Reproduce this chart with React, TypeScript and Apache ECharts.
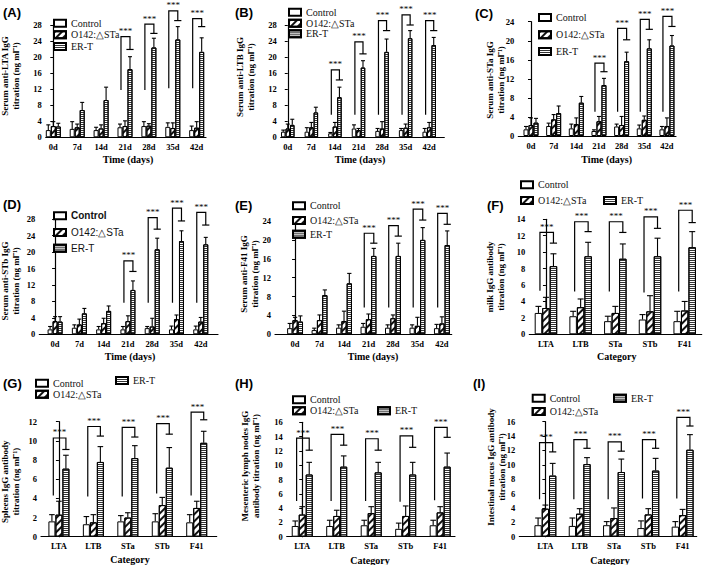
import React, { useEffect, useRef } from "react";
import * as echarts from "echarts";

const dayCategories = ["0d", "7d", "14d", "21d", "28d", "35d", "42d"];
const antigenCategories = ["LTA", "LTB", "STa", "STb", "F41"];
const groupNames = ["Control", "O142:△STa", "ER-T"];

// (A) Serum anti-LTA IgG
const aControl = [1.8, 2.1, 1.8, 2.5, 2.8, 2.6, 1.8];
const aControlSd = [1.3, 1.8, 0.7, 0.8, 1.1, 1.0, 1.0];
const aO142 = [2.8, 2.5, 2.2, 2.8, 2.9, 2.3, 2.4];
const aO142Sd = [1.1, 0.8, 0.9, 1.3, 0.5, 1.3, 1.5];
const aErt = [2.7, 6.8, 9.3, 17.0, 22.4, 24.4, 21.3];
const aErtSd = [0.8, 1.9, 3.2, 3.1, 2.3, 3.2, 3.5];
const aSigCats = [3, 4, 5, 6];
const aSigLow = [11.8, 11.8, 12.2, 12.2];
const aSigTop = [25.1, 28.2, 31.5, 29.6];
const aSigHigh = [21.9, 25.9, 29.1, 27.6];

// (B) Serum anti-LTB IgG
const bControl = [1.4, 1.4, 1.0, 2.2, 1.6, 1.8, 1.4];
const bControlSd = [0.4, 1.0, 0.2, 0.9, 0.6, 0.4, 0.8];
const bO142 = [2.2, 2.5, 2.7, 1.8, 2.2, 2.4, 2.5];
const bO142Sd = [1.1, 1.2, 1.0, 0.4, 1.7, 0.9, 1.2];
const bErt = [3.1, 6.2, 10.0, 17.4, 21.3, 24.7, 23.0];
const bErtSd = [1.4, 1.3, 2.5, 1.7, 3.2, 1.9, 1.9];
const bSigCats = [2, 3, 4, 5, 6];
const bSigLow = [5.6, 5.6, 5.6, 5.6, 5.6];
const bSigTop = [16.8, 23.8, 29.1, 30.5, 29.1];
const bSigHigh = [14.3, 20.8, 26.6, 28.0, 26.6];

// (C) Serum anti-STa IgG
const cControl = [1.4, 2.1, 1.6, 1.05, 2.0, 1.6, 1.4];
const cControlSd = [0.6, 0.6, 0.9, 0.25, 0.5, 0.7, 0.6];
const cO142 = [2.3, 3.5, 2.5, 3.1, 2.3, 3.4, 2.1];
const cO142Sd = [1.5, 1.0, 1.3, 1.0, 1.8, 0.8, 1.7];
const cErt = [2.8, 4.8, 7.0, 10.7, 15.7, 18.4, 19.0];
const cErtSd = [0.9, 1.5, 1.3, 1.4, 1.9, 1.8, 2.1];
const cSigCats = [3, 4, 5, 6];
const cSigLow = [5.1, 5.1, 5.1, 5.1];
const cSigTop = [15.3, 22.6, 24.5, 25.1];
const cSigHigh = [13.5, 20.2, 22.4, 23.0];

// (D) Serum anti-STb IgG
const dControl = [1.2, 1.6, 1.2, 1.2, 1.5, 1.2, 1.2];
const dControlSd = [0.7, 0.7, 0.7, 0.7, 0.4, 0.8, 0.8];
const dO142 = [3.2, 2.4, 2.7, 3.2, 1.9, 3.7, 3.1];
const dO142Sd = [1.1, 1.3, 1.2, 1.3, 2.0, 1.0, 1.0];
const dErt = [3.1, 5.1, 5.7, 10.8, 20.7, 22.7, 21.9];
const dErtSd = [1.2, 1.2, 1.2, 2.2, 2.7, 2.5, 1.7];
const dSigCats = [3, 4, 5, 6];
const dSigLow = [7.7, 7.7, 7.7, 7.7];
const dSigTop = [17.9, 28.4, 30.7, 29.7];
const dSigHigh = [15.3, 25.6, 27.6, 26.6];

// (E) Serum anti-F41 IgG
const eControl = [1.3, 0.9, 1.4, 1.6, 1.4, 1.4, 1.3];
const eControlSd = [1.0, 0.4, 0.6, 0.7, 0.6, 0.6, 0.8];
const eO142 = [3.0, 3.0, 2.8, 3.2, 3.4, 1.8, 2.3];
const eO142Sd = [0.6, 1.1, 2.1, 1.1, 0.7, 1.8, 1.4];
const eErt = [2.7, 8.3, 10.8, 16.6, 16.6, 20.0, 18.9];
const eErtSd = [1.2, 1.1, 2.1, 1.6, 2.7, 2.6, 3.0];
const eSigCats = [3, 4, 5, 6];
const eSigLow = [5.7, 5.7, 5.7, 5.7];
const eSigTop = [21.4, 23.0, 26.5, 25.6];
const eSigHigh = [19.3, 20.8, 24.2, 23.3];

// (F) milk IgG antibody
const fControl = [2.6, 2.2, 1.6, 1.8, 1.6];
const fControlSd = [0.8, 0.6, 0.6, 0.6, 1.2];
const fO142 = [3.2, 3.3, 2.6, 2.8, 2.9];
const fO142Sd = [1.3, 1.0, 0.8, 1.9, 1.1];
const fErt = [8.3, 9.5, 9.2, 9.5, 10.6];
const fErtSd = [1.5, 1.7, 1.8, 2.2, 1.9];
const fSigCats = [0, 1, 2, 3, 4];
const fSigLow = [5.3, 5.2, 5.2, 5.1, 5.2];
const fSigTop = [12.4, 13.7, 13.7, 14.3, 15.1];
const fSigHigh = [11.1, 12.5, 12.4, 12.9, 13.6];

// (G) Spleens IgG antibody
const gControl = [1.6, 1.3, 1.6, 1.6, 1.5];
const gControlSd = [0.7, 0.8, 0.6, 0.8, 0.8];
const gO142 = [2.3, 1.5, 2.0, 3.3, 3.0];
const gO142Sd = [1.4, 0.8, 0.5, 0.8, 0.7];
const gErt = [7.1, 7.8, 8.2, 7.2, 9.8];
const gErtSd = [1.4, 1.6, 1.3, 2.1, 1.2];
const gSigCats = [0, 1, 2, 3, 4];
const gSigLow = [4.3, 4.2, 4.2, 4.5, 4.3];
const gSigTop = [10.3, 11.5, 11.4, 11.8, 13.0];
const gSigHigh = [9.1, 10.5, 10.4, 10.7, 12.2];

// (H) Mesenteric lymph nodes IgG antibody
const hControl = [1.5, 1.5, 1.6, 1.1, 1.6];
const hControlSd = [0.7, 0.8, 0.7, 0.8, 0.7];
const hO142 = [3.1, 2.9, 3.3, 2.9, 3.4];
const hO142Sd = [1.1, 0.8, 0.9, 1.4, 0.8];
const hErt = [8.7, 9.8, 9.0, 8.7, 9.8];
const hErtSd = [1.7, 1.5, 1.4, 1.7, 1.9];
const hSigCats = [0, 1, 2, 3, 4];
const hSigLow = [5.0, 5.0, 5.0, 4.9, 5.1];
const hSigTop = [13.8, 14.3, 13.7, 14.1, 15.3];
const hSigHigh = [12.1, 12.8, 12.1, 12.5, 13.9];

// (I) Intestinal mucus IgG antibody
const iControl = [1.6, 1.5, 1.6, 1.2, 1.4];
const iControlSd = [1.0, 1.1, 0.5, 1.0, 0.7];
const iO142 = [3.9, 3.2, 2.6, 3.1, 3.0];
const iO142Sd = [0.5, 0.7, 1.4, 0.8, 0.8];
const iErt = [8.5, 10.1, 9.0, 9.2, 12.1];
const iErtSd = [1.7, 0.9, 1.8, 1.7, 2.1];
const iSigCats = [0, 1, 2, 3, 4];
const iSigLow = [5.2, 5.2, 5.2, 5.3, 5.3];
const iSigTop = [13.1, 13.5, 13.2, 13.5, 16.6];
const iSigHigh = [11.8, 12.3, 11.9, 12.3, 15.4];

const SERIF = "'Liberation Serif', 'Times New Roman', serif";
const SANS = "'Liberation Sans', Arial, sans-serif";
const UNIT = "titration (ng ml\u207B\u00B9)";

const panels = [
  {
    label: "(A)", labelPos: [3, 12], cats: dayCategories,
    means: [aControl, aO142, aErt], sds: [aControlSd, aO142Sd, aErtSd],
    sig: [aSigCats, aSigLow, aSigTop, aSigHigh], yMax: 28, yStep: 4,
    grid: [45.7, 25, 160.3, 112.3], xMin: -0.318, xMax: 6.39, bw: 5,
    yTitle: "Serum anti-LTA IgG\n" + UNIT, yTitlePos: [10.4, 76],
    xTitle: "Time (days)", xTitlePos: [128, 159.3],
    legendPos: [[53, 21.7], [53, 33.3], [53, 45]], sans: false,
  },
  {
    label: "(B)", labelPos: [235, 12], cats: dayCategories,
    means: [bControl, bO142, bErt], sds: [bControlSd, bO142Sd, bErtSd],
    sig: [bSigCats, bSigLow, bSigTop, bSigHigh], yMax: 28, yStep: 4,
    grid: [280.7, 25, 163.6, 112.3], xMin: -0.3, xMax: 6.64, bw: 4.5,
    yTitle: "Serum anti-LTB IgG\n" + UNIT, yTitlePos: [245.3, 77],
    xTitle: "Time (days)", xTitlePos: [360, 159],
    legendPos: [[288, 10.7], [288, 21.7], [288, 32.3]], sans: false,
  },
  {
    label: "(C)", labelPos: [475, 13], cats: dayCategories,
    means: [cControl, cO142, cErt], sds: [cControlSd, cO142Sd, cErtSd],
    sig: [cSigCats, cSigLow, cSigTop, cSigHigh], yMax: 24, yStep: 4,
    grid: [518.3, 21.7, 157.7, 114.3], xMin: -0.56, xMax: 6.4, bw: 5,
    yTitle: "Serum anti-STa IgG\n" + UNIT, yTitlePos: [495.5, 80],
    xTitle: "Time (days)", xTitlePos: [606.7, 159],
    legendPos: [[538, 16], [538, 33.3], [538, 50]], sans: false,
  },
  {
    label: "(D)", labelPos: [3, 204], cats: dayCategories,
    means: [dControl, dO142, dErt], sds: [dControlSd, dO142Sd, dErtSd],
    sig: [dSigCats, dSigLow, dSigTop, dSigHigh], yMax: 28, yStep: 4,
    grid: [39.3, 219.3, 178.7, 115], xMin: -0.65, xMax: 6.71, bw: 5,
    yTitle: "Serum anti-STb IgG\n" + UNIT, yTitlePos: [10.8, 281],
    xTitle: "Time (days)", xTitlePos: [130, 356.7],
    legendPos: [[53, 214.3], [53, 231], [53, 246.7]], sans: true,
  },
  {
    label: "(E)", labelPos: [235, 205], cats: dayCategories,
    means: [eControl, eO142, eErt], sds: [eControlSd, eO142Sd, eErtSd],
    sig: [eSigCats, eSigLow, eSigTop, eSigHigh], yMax: 24, yStep: 4,
    grid: [275, 221, 176.7, 113.3], xMin: -0.82, xMax: 6.4, bw: 5.3,
    yTitle: "Serum anti-F41 IgG\n" + UNIT, yTitlePos: [249, 274],
    xTitle: "Time (days)", xTitlePos: [373, 356.7],
    legendPos: [[292, 204.3], [292, 219], [292, 232.7]], sans: false,
  },
  {
    label: "(F)", labelPos: [487, 205], cats: antigenCategories,
    means: [fControl, fO142, fErt], sds: [fControlSd, fO142Sd, fErtSd],
    sig: [fSigCats, fSigLow, fSigTop, fSigHigh], yMax: 14, yStep: 2,
    grid: [529.3, 219.3, 172.4, 115], xMin: -0.48, xMax: 4.49, bw: 7.5,
    yTitle: "milk IgG antibody\n" + UNIT, yTitlePos: [495, 277],
    xTitle: "Category", xTitlePos: [616.7, 356.7],
    legendPos: [[520, 183.3], [520, 199], [603, 199]], sans: false,
  },
  {
    label: "(G)", labelPos: [3, 383], cats: antigenCategories,
    means: [gControl, gO142, gErt], sds: [gControlSd, gO142Sd, gErtSd],
    sig: [gSigCats, gSigLow, gSigTop, gSigHigh], yMax: 12, yStep: 2,
    grid: [41, 421.7, 175.7, 115], xMin: -0.52, xMax: 4.58, bw: 7,
    yTitle: "Spleens IgG antibody\n" + UNIT, yTitlePos: [10.3, 481.7],
    xTitle: "Category", xTitlePos: [130, 559.3],
    legendPos: [[35, 381.7], [35, 392.7], [115, 379]], sans: false,
  },
  {
    label: "(H)", labelPos: [235, 383], cats: antigenCategories,
    means: [hControl, hO142, hErt], sds: [hControlSd, hO142Sd, hErtSd],
    sig: [hSigCats, hSigLow, hSigTop, hSigHigh], yMax: 16, yStep: 2,
    grid: [286.7, 422.3, 168.3, 114.4], xMin: -0.45, xMax: 4.43, bw: 7,
    yTitle: "Mesenteric lymph nodes IgG\nantibody titration (ng ml\u207B\u00B9)", yTitlePos: [250, 466],
    xTitle: "Category", xTitlePos: [370, 560],
    legendPos: [[292, 398.3], [292, 409.3], [377, 409.3]], sans: false,
  },
  {
    label: "(I)", labelPos: [473, 383], cats: antigenCategories,
    means: [iControl, iO142, iErt], sds: [iControlSd, iO142Sd, iErtSd],
    sig: [iSigCats, iSigLow, iSigTop, iSigHigh], yMax: 16, yStep: 2,
    grid: [519.3, 421.7, 177.4, 115], xMin: -0.76, xMax: 4.41, bw: 7.3,
    yTitle: "Intestinal mucus IgG antibody\n" + UNIT, yTitlePos: [496, 467],
    xTitle: "Category", xTitlePos: [610, 560.7],
    legendPos: [[531.7, 396.7], [531.7, 410], [613, 396.7]], sans: false,
  },
];

const decals: any[] = [
  undefined,
  { symbol: "rect", symbolSize: 1, dashArrayX: [1, 0], dashArrayY: [1.2, 2.3], rotation: -Math.PI / 4, color: "#111" },
  { symbol: "rect", symbolSize: 1, dashArrayX: [1, 0], dashArrayY: [1, 1], rotation: 0, color: "#333" },
];

function buildOption() {
  const grid: any[] = [];
  const xAxis: any[] = [];
  const yAxis: any[] = [];
  const series: any[] = [];
  const legend: any[] = [];
  const graphic: any[] = [];

  panels.forEach((p, k) => {
    const [gl, gt, gw, gh] = p.grid;
    grid.push({ left: gl, top: gt, width: gw, height: gh });
    xAxis.push({
      type: "value", gridIndex: k, min: p.xMin, max: p.xMax,
      axisLine: { show: true, onZero: false, lineStyle: { color: "#000", width: 1.2 } },
      axisTick: { show: false }, splitLine: { show: false },
      axisLabel: {
        customValues: p.cats.map((_, i) => i),
        formatter: (v: number) => p.cats[Math.round(v)] ?? "",
        color: "#000", fontFamily: SERIF, fontWeight: "bold", fontSize: 8.5, margin: 5,
      },
    });
    yAxis.push({
      type: "value", gridIndex: k, min: 0, max: p.yMax, interval: p.yStep,
      axisLine: { show: true, lineStyle: { color: "#000", width: 1.2 } },
      axisTick: { show: true, length: 3, lineStyle: { color: "#000", width: 1 } },
      splitLine: { show: false },
      axisLabel: { color: "#000", fontFamily: SERIF, fontWeight: "bold", fontSize: 8.5, margin: 4 },
    });
    groupNames.forEach((name, s) => {
      series.push({
        type: "bar", name, xAxisIndex: k, yAxisIndex: k,
        barWidth: p.bw, barGap: "0%", silent: true,
        data: p.means[s].map((v, i) => [i, v]),
        itemStyle: { color: "#fff", borderColor: "#000", borderWidth: 1, decal: decals[s] },
      });
    });
    const bw = p.bw;
    const errData: number[][] = [];
    p.means.forEach((arr, s) => arr.forEach((v, i) => errData.push([i, s, v, v + p.sds[s][i]])));
    series.push({
      type: "custom", xAxisIndex: k, yAxisIndex: k, silent: true, z: 3,
      data: errData, encode: { x: 0, y: 3 },
      renderItem: (params: any, api: any) => {
        const x = api.value(0), s = api.value(1), m = api.value(2), u = api.value(3);
        const pm = api.coord([x, m]);
        const pu = api.coord([x, u]);
        const cx = pm[0] + (s - 1) * bw;
        const cap = Math.max(2, bw * 0.4);
        return {
          type: "group",
          children: [
            { type: "line", shape: { x1: cx, y1: pm[1], x2: cx, y2: pu[1] }, style: { stroke: "#000", lineWidth: 1.1 } },
            { type: "line", shape: { x1: cx - cap, y1: pu[1], x2: cx + cap, y2: pu[1] }, style: { stroke: "#000", lineWidth: 1.1 } },
          ],
        };
      },
    });
    const [sc, sl, st, sh] = p.sig;
    series.push({
      type: "custom", xAxisIndex: k, yAxisIndex: k, silent: true, z: 4, clip: false,
      data: sc.map((c, j) => [c, sl[j], st[j], sh[j]]), encode: { x: 0, y: 2 },
      renderItem: (params: any, api: any) => {
        const x = api.value(0);
        const c = api.coord([x, 0])[0];
        const yl = api.coord([x, api.value(1)])[1];
        const yt = api.coord([x, api.value(2)])[1];
        const yh = api.coord([x, api.value(3)])[1];
        const xl = c - bw * 0.8;
        const xr = c + bw;
        return {
          type: "group",
          children: [
            { type: "polyline", shape: { points: [[xl, yl], [xl, yt], [xr, yt], [xr, yh]] }, style: { stroke: "#000", lineWidth: 1.2, fill: null } },
            { type: "line", shape: { x1: xr - 3.6, y1: yh, x2: xr + 3.6, y2: yh }, style: { stroke: "#000", lineWidth: 1.2 } },
            { type: "text", x: (xl + xr) / 2, y: yt - 1, style: { text: "***", fontFamily: SERIF, fontSize: 9, fill: "#000", align: "center", verticalAlign: "bottom" } },
          ],
        };
      },
    });
    p.legendPos.forEach(([lx, ly], s) => {
      legend.push({
        data: [groupNames[s]], left: lx, top: ly - 3.5, padding: 0,
        itemWidth: 12, itemHeight: 7, icon: "rect", selectedMode: false,
        textStyle: {
          fontFamily: p.sans ? SANS : SERIF, fontSize: 10, color: "#111",
          fontWeight: p.sans && s === 0 ? "bold" : "normal",
        },
      });
    });
    graphic.push({
      type: "text", x: p.labelPos[0], y: p.labelPos[1],
      style: { text: p.label, fontFamily: SANS, fontWeight: "bold", fontSize: 13, fill: "#000", align: "left", verticalAlign: "middle" },
    });
    graphic.push({
      type: "text", x: p.yTitlePos[0], y: p.yTitlePos[1], rotation: Math.PI / 2,
      style: { text: p.yTitle, fontFamily: SERIF, fontWeight: "bold", fontSize: 9, lineHeight: 11, fill: "#000", align: "center", verticalAlign: "middle" },
    });
    graphic.push({
      type: "text", x: p.xTitlePos[0], y: p.xTitlePos[1],
      style: { text: p.xTitle, fontFamily: SERIF, fontWeight: "bold", fontSize: 10, fill: "#000", align: "center", verticalAlign: "middle" },
    });
  });

  return { animation: false, backgroundColor: "#fff", grid, xAxis, yAxis, series, legend, graphic };
}

export default function App() {
  const ref = useRef<HTMLDivElement>(null);
  useEffect(() => {
    if (!ref.current) return;
    const chart = echarts.init(ref.current, undefined, { renderer: "svg" });
    chart.setOption(buildOption() as any);
    return () => chart.dispose();
  }, []);
  return <div ref={ref} style={{ position: "absolute", left: 0, top: 0, width: 709, height: 565, background: "#fff" }} />;
}
